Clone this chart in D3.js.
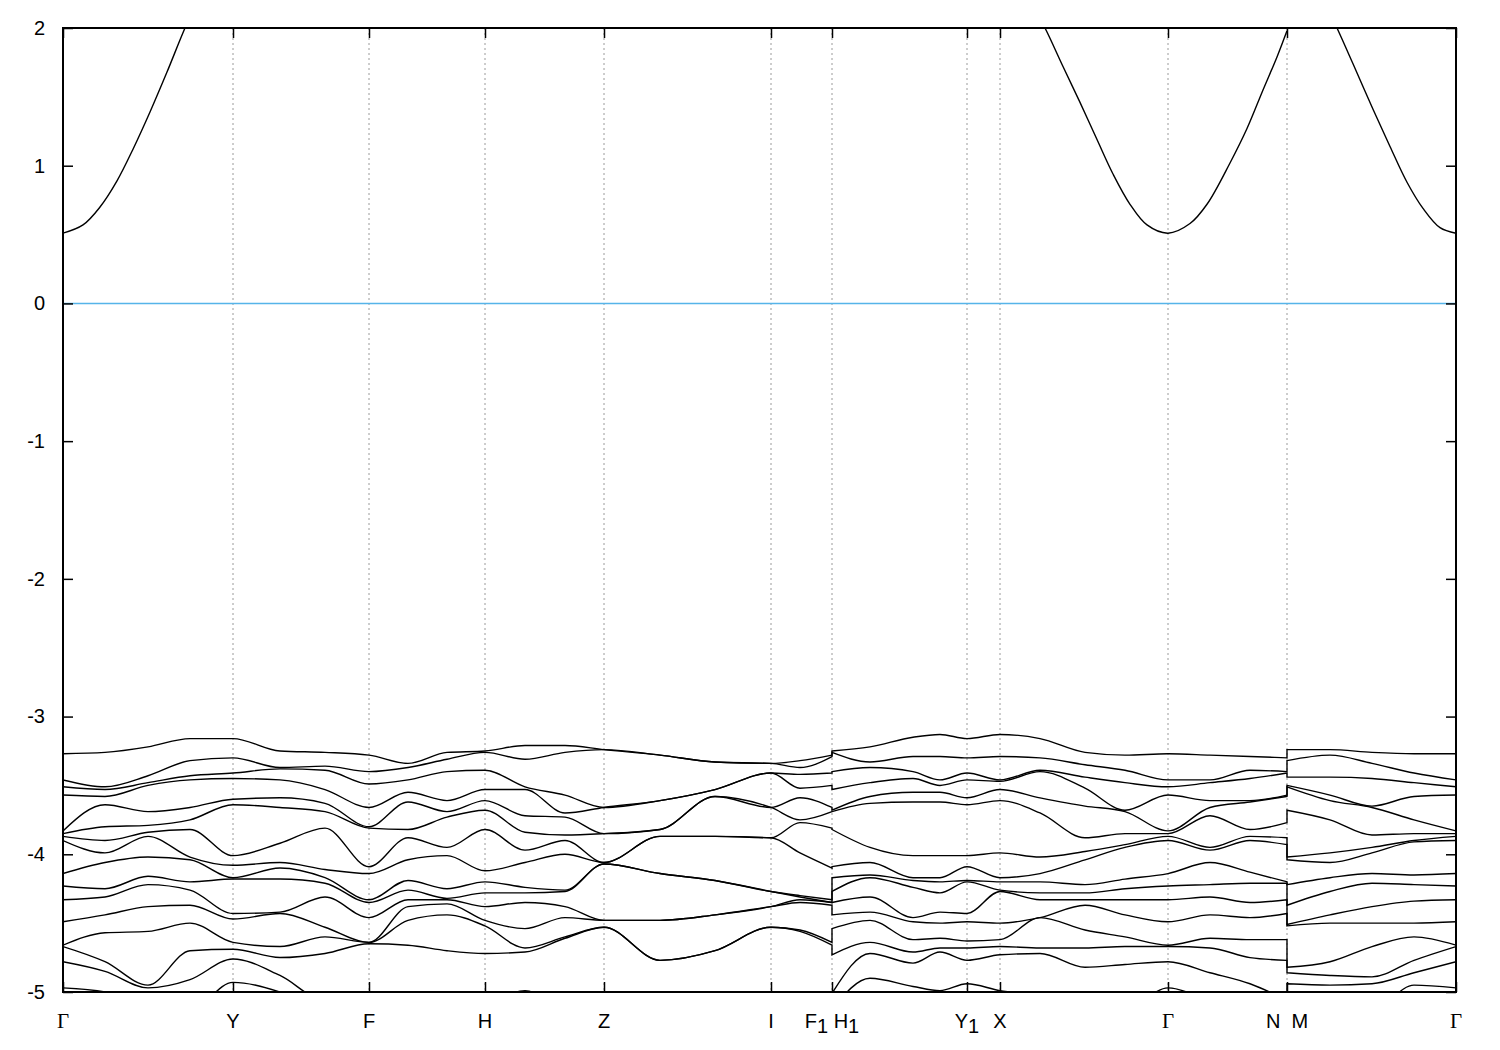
<!DOCTYPE html>
<html><head><meta charset="utf-8">
<script src="https://cdn.jsdelivr.net/npm/d3@7"></script>
<style>body{margin:0;background:#fff}</style>
</head><body>
<svg id="chart" width="1500" height="1050"></svg>
<script>
// k-path positions of the high-symmetry points and their labels
const kTicks = [0, 1.70, 3.06, 4.22, 5.41, 7.08, 7.69, 9.04, 9.37, 11.05, 12.24, 13.93];
const kLabels = ["Γ", "Y", "F", "H", "Z", "I", "F_1 H_1", "Y_1", "X", "Γ", "N  M", "Γ"];
const yTicks = [-5, -4, -3, -2, -1, 0, 1, 2];

// Segment A: Γ-Y-F-H-Z-I-F1 ; each column lists the 16 valence energies (eV), top to bottom
const kA = [0, 0.42, 0.85, 1.27, 1.70, 2.17, 2.62, 3.06, 3.45, 3.84, 4.22, 4.62, 5.02, 5.41, 5.97, 6.52, 7.08, 7.37, 7.69];
const valenceA = [
  [-3.27,-3.46,-3.51,-3.57,-3.83,-3.85,-3.87,-3.90,-4.14,-4.23,-4.33,-4.49,-4.66,-4.67,-4.78,-4.97],
  [-3.26,-3.51,-3.53,-3.58,-3.64,-3.80,-3.90,-3.99,-4.06,-4.25,-4.31,-4.44,-4.57,-4.78,-4.85,-5.00],
  [-3.22,-3.43,-3.48,-3.50,-3.69,-3.79,-3.84,-3.87,-4.02,-4.16,-4.22,-4.38,-4.56,-4.95,-4.97,-5.10],
  [-3.16,-3.32,-3.43,-3.46,-3.66,-3.75,-3.82,-4.02,-4.04,-4.20,-4.26,-4.37,-4.50,-4.70,-4.91,-5.13],
  [-3.16,-3.30,-3.41,-3.45,-3.60,-3.64,-4.01,-4.08,-4.17,-4.18,-4.43,-4.47,-4.64,-4.69,-4.76,-4.93],
  [-3.25,-3.37,-3.38,-3.46,-3.59,-3.66,-3.92,-4.06,-4.10,-4.18,-4.42,-4.43,-4.67,-4.75,-4.88,-5.00],
  [-3.26,-3.36,-3.39,-3.53,-3.63,-3.69,-3.81,-4.11,-4.17,-4.21,-4.31,-4.53,-4.60,-4.72,-5.06,-5.13],
  [-3.28,-3.40,-3.49,-3.66,-3.80,-3.81,-4.09,-4.14,-4.33,-4.35,-4.46,-4.64,-4.64,-4.65,-5.06,-5.13],
  [-3.34,-3.37,-3.46,-3.55,-3.62,-3.82,-3.88,-4.04,-4.19,-4.26,-4.33,-4.38,-4.48,-4.66,-5.06,-5.13],
  [-3.26,-3.31,-3.40,-3.61,-3.69,-3.73,-3.95,-4.01,-4.25,-4.32,-4.33,-4.36,-4.44,-4.70,-5.06,-5.13],
  [-3.25,-3.26,-3.39,-3.53,-3.61,-3.68,-3.82,-4.12,-4.20,-4.28,-4.38,-4.48,-4.52,-4.72,-5.06,-5.13],
  [-3.21,-3.31,-3.51,-3.53,-3.72,-3.84,-3.97,-4.06,-4.24,-4.28,-4.35,-4.54,-4.68,-4.71,-4.99,-5.13],
  [-3.21,-3.26,-3.57,-3.70,-3.73,-3.86,-3.90,-4.00,-4.26,-4.27,-4.38,-4.46,-4.60,-4.61,-5.13,-5.17],
  [-3.24,-3.24,-3.66,-3.66,-3.85,-3.85,-4.06,-4.06,-4.07,-4.07,-4.48,-4.48,-4.53,-4.53,-5.17,-5.20],
  [-3.28,-3.28,-3.61,-3.61,-3.82,-3.82,-3.87,-3.87,-4.14,-4.14,-4.48,-4.48,-4.77,-4.77,-5.20,-5.24],
  [-3.33,-3.33,-3.53,-3.53,-3.58,-3.58,-3.87,-3.87,-4.19,-4.19,-4.44,-4.44,-4.70,-4.70,-5.20,-5.24],
  [-3.34,-3.34,-3.41,-3.41,-3.66,-3.66,-3.88,-3.88,-4.27,-4.27,-4.38,-4.38,-4.53,-4.53,-5.20,-5.24],
  [-3.32,-3.37,-3.42,-3.52,-3.59,-3.75,-3.77,-3.99,-4.30,-4.31,-4.33,-4.35,-4.55,-4.56,-5.20,-5.24],
  [-3.28,-3.29,-3.41,-3.50,-3.66,-3.69,-3.81,-4.10,-4.33,-4.35,-4.35,-4.37,-4.64,-4.66,-5.20,-5.24]
];

// Segment B: H1-Y1-X-Γ-N
const kB = [7.69, 8.07, 8.50, 8.77, 9.04, 9.37, 9.77, 10.22, 10.62, 11.05, 11.47, 11.87, 12.24];
const valenceB = [
  [-3.25,-3.26,-3.40,-3.53,-3.68,-3.69,-3.82,-4.09,-4.17,-4.27,-4.35,-4.44,-4.54,-4.73,-5.01,-5.13],
  [-3.22,-3.33,-3.37,-3.48,-3.58,-3.63,-3.95,-4.06,-4.15,-4.17,-4.31,-4.42,-4.48,-4.64,-4.72,-4.90],
  [-3.15,-3.29,-3.40,-3.45,-3.55,-3.62,-4.01,-4.17,-4.19,-4.24,-4.46,-4.49,-4.62,-4.71,-4.79,-4.96],
  [-3.13,-3.29,-3.46,-3.50,-3.55,-3.62,-4.01,-4.17,-4.20,-4.28,-4.42,-4.50,-4.61,-4.68,-4.71,-4.99],
  [-3.16,-3.30,-3.41,-3.46,-3.59,-3.64,-4.01,-4.09,-4.19,-4.20,-4.43,-4.49,-4.63,-4.68,-4.77,-4.94],
  [-3.13,-3.29,-3.46,-3.47,-3.53,-3.61,-3.99,-4.17,-4.20,-4.26,-4.27,-4.50,-4.62,-4.67,-4.73,-4.99],
  [-3.16,-3.30,-3.39,-3.40,-3.59,-3.70,-4.02,-4.14,-4.20,-4.28,-4.33,-4.46,-4.46,-4.68,-4.72,-5.02],
  [-3.26,-3.35,-3.44,-3.52,-3.65,-3.88,-3.98,-4.04,-4.22,-4.28,-4.33,-4.37,-4.55,-4.68,-4.82,-5.13],
  [-3.28,-3.39,-3.48,-3.68,-3.69,-3.85,-3.93,-3.95,-4.18,-4.25,-4.33,-4.44,-4.60,-4.67,-4.80,-5.13],
  [-3.27,-3.46,-3.51,-3.57,-3.83,-3.85,-3.87,-3.90,-4.14,-4.23,-4.33,-4.49,-4.66,-4.67,-4.78,-4.97],
  [-3.28,-3.46,-3.48,-3.61,-3.66,-3.72,-3.95,-3.97,-4.06,-4.22,-4.31,-4.44,-4.61,-4.68,-4.86,-5.06],
  [-3.29,-3.39,-3.45,-3.61,-3.62,-3.82,-3.87,-3.90,-4.13,-4.21,-4.35,-4.46,-4.62,-4.75,-4.94,-5.13],
  [-3.30,-3.40,-3.41,-3.57,-3.58,-3.77,-3.88,-3.93,-4.20,-4.21,-4.33,-4.43,-4.62,-4.77,-5.06,-5.13]
];

// Segment C: M-Γ
const kC = [12.24, 12.67, 13.09, 13.51, 13.93];
const valenceC = [
  [-3.24,-3.32,-3.44,-3.50,-3.51,-3.68,-4.02,-4.04,-4.22,-4.37,-4.51,-4.52,-4.82,-4.86,-4.94,-5.13],
  [-3.24,-3.28,-3.44,-3.57,-3.61,-3.75,-3.99,-4.06,-4.17,-4.27,-4.44,-4.50,-4.78,-4.88,-4.95,-5.13],
  [-3.26,-3.34,-3.45,-3.65,-3.66,-3.86,-3.95,-3.99,-4.14,-4.21,-4.38,-4.50,-4.67,-4.89,-4.94,-5.13],
  [-3.27,-3.41,-3.48,-3.58,-3.75,-3.85,-3.90,-3.91,-4.15,-4.22,-4.34,-4.50,-4.60,-4.77,-4.86,-4.95],
  [-3.27,-3.46,-3.51,-3.57,-3.83,-3.85,-3.87,-3.90,-4.14,-4.23,-4.33,-4.49,-4.66,-4.67,-4.78,-4.97]
];

// Conduction band (visible pieces)
const condA_k = [0, 0.20, 0.37, 0.54, 0.70, 0.87, 1.04, 1.22, 1.42, 1.70];
const condA_E = [0.51, 0.57, 0.70, 0.89, 1.12, 1.39, 1.68, 2.00, 2.32, 2.75];
const condB_k = [9.37, 9.67, 9.82, 10.00, 10.17, 10.34, 10.50, 10.67, 10.84, 11.05, 11.27, 11.44, 11.67, 11.84, 12.00, 12.14, 12.24];
const condB_E = [2.55, 2.20, 2.00, 1.72, 1.46, 1.19, 0.94, 0.72, 0.57, 0.51, 0.58, 0.72, 1.02, 1.27, 1.55, 1.79, 1.98];
const condC_k = [12.24, 12.57, 12.74, 12.90, 13.10, 13.27, 13.44, 13.60, 13.77, 13.93];
const condC_E = [2.55, 2.26, 2.00, 1.74, 1.41, 1.14, 0.88, 0.69, 0.55, 0.51];

const svg = d3.select("#chart");
const x = d3.scaleLinear().domain([0, 13.93]).range([63, 1456]);
const y = d3.scaleLinear().domain([-5, 2]).range([992, 28]);
const FONT = "'Liberation Sans', Arial, Helvetica, sans-serif";

svg.append("rect").attr("width", 1500).attr("height", 1050).attr("fill", "#fff");
svg.append("defs").append("clipPath").attr("id", "plotclip")
  .append("rect").attr("x", x(0)).attr("y", y(2)).attr("width", x(13.93) - x(0)).attr("height", y(-5) - y(2));

// dashed vertical lines at inner high-symmetry points
svg.append("g").selectAll("line").data(kTicks.slice(1, -1)).join("line")
  .attr("x1", d => x(d)).attr("x2", d => x(d)).attr("y1", y(2)).attr("y2", y(-5))
  .attr("stroke", "#9a9a9a").attr("stroke-width", 1).attr("stroke-dasharray", "2,3");

// Fermi level
svg.append("line").attr("x1", x(0)).attr("x2", x(13.93)).attr("y1", y(0)).attr("y2", y(0))
  .attr("stroke", "#56b4e9").attr("stroke-width", 1.5);

const plot = svg.append("g").attr("clip-path", "url(#plotclip)");
const line = d3.line().x(d => x(d[0])).y(d => y(d[1])).curve(d3.curveMonotoneX);
const smooth = d3.line().x(d => x(d[0])).y(d => y(d[1])).curve(d3.curveCatmullRom.alpha(0.5));
const nBands = valenceA[0].length;
for (let b = 0; b < nBands; b++) {
  const parts = [[kA, valenceA], [kB, valenceB], [kC, valenceC]]
    .map(([ks, cols]) => ks.map((k, i) => [k, cols[i][b]]));
  const d = parts.map((p, i) => i === 0 ? line(p) : line(p).replace(/^M/, "L")).join("");
  plot.append("path").attr("d", d).attr("fill", "none").attr("stroke", "#000").attr("stroke-width", 1.4);
}
[[condA_k, condA_E], [condB_k, condB_E], [condC_k, condC_E]].forEach(([ks, es]) => {
  plot.append("path").attr("d", smooth(ks.map((k, i) => [k, es[i]])))
    .attr("fill", "none").attr("stroke", "#000").attr("stroke-width", 1.4);
});

// axes with inward ticks
const gl = svg.append("g").attr("transform", `translate(${x(0)},0)`)
  .call(d3.axisLeft(y).tickValues(yTicks).tickSize(-10).tickPadding(18).tickFormat(d => String(d)));
const gr = svg.append("g").attr("transform", `translate(${x(13.93)},0)`)
  .call(d3.axisRight(y).tickValues(yTicks).tickSize(-10).tickFormat(""));
const gb = svg.append("g").attr("transform", `translate(0,${y(-5)})`)
  .call(d3.axisBottom(x).tickValues(kTicks).tickSize(-10).tickFormat(""));
const gt = svg.append("g").attr("transform", `translate(0,${y(2)})`)
  .call(d3.axisTop(x).tickValues(kTicks).tickSize(-10).tickFormat(""));
[gl, gr, gb, gt].forEach(g => {
  g.select(".domain").remove();
  g.selectAll(".tick line").attr("stroke", "#000").attr("stroke-width", 1.5);
});
gl.selectAll(".tick text").attr("font-family", FONT).attr("font-size", 20).attr("fill", "#000");

// border
svg.append("rect").attr("x", x(0)).attr("y", y(2)).attr("width", x(13.93) - x(0)).attr("height", y(-5) - y(2))
  .attr("fill", "none").attr("stroke", "#000").attr("stroke-width", 2);

// k-point labels (with subscripts)
kLabels.forEach((lab, i) => {
  const t = svg.append("text").attr("x", x(kTicks[i])).attr("y", 1028)
    .attr("text-anchor", "middle").attr("font-size", 20).attr("fill", "#000")
    .style("white-space", "pre");
  if (lab === "Γ") { t.attr("font-family", "'Liberation Serif', 'Times New Roman', serif").attr("font-size", 21).text(lab); return; }
  t.attr("font-family", FONT);
  const pieces = lab.split(/(_\d)/).filter(s => s.length);
  let shifted = false;
  pieces.forEach(p => {
    if (p.startsWith("_")) {
      t.append("tspan").attr("dy", 5).text(p.slice(1)); shifted = true;
    } else {
      const ts = t.append("tspan").text(p);
      if (shifted) { ts.attr("dy", -5); shifted = false; }
    }
  });
});
</script>
</body></html>
